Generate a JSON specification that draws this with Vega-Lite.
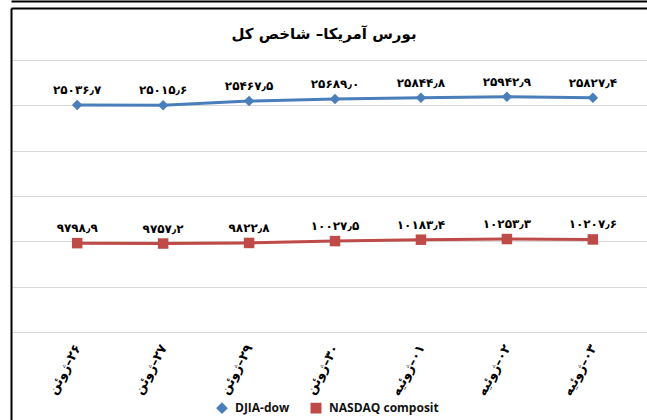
{
  "$schema": "https://vega.github.io/schema/vega-lite/v6.json",
  "width": 636,
  "height": 412,
  "autosize": {"type": "none"},
  "padding": {"left": 11, "top": 8, "right": 0, "bottom": 0},
  "background": "white",
  "title": {
    "text": "بورس آمریکا– شاخص کل",
    "font": "DejaVu Sans",
    "fontSize": 15,
    "fontWeight": "bold",
    "color": "#000000",
    "anchor": "middle",
    "frame": "group",
    "offset": -41,
    "dx": -5
  },
  "config": {
    "view": {"stroke": null},
    "locale": {
      "number": {
        "decimal": "٫",
        "thousands": "٬",
        "grouping": [3],
        "currency": ["", ""],
        "numerals": ["۰", "۱", "۲", "۳", "۴", "۵", "۶", "۷", "۸", "۹"]
      }
    }
  },
  "data": {
    "values": [
      {"date": "‏۲۶–ژوئن", "series": "DJIA-dow", "value": 25036.7},
      {"date": "‏۲۷–ژوئن", "series": "DJIA-dow", "value": 25015.6},
      {"date": "‏۲۹–ژوئن", "series": "DJIA-dow", "value": 25467.5},
      {"date": "‏۳۰–ژوئن", "series": "DJIA-dow", "value": 25689.0},
      {"date": "‏۰۱–ژوئیه", "series": "DJIA-dow", "value": 25844.8},
      {"date": "‏۰۲–ژوئیه", "series": "DJIA-dow", "value": 25942.9},
      {"date": "‏۰۳–ژوئیه", "series": "DJIA-dow", "value": 25827.4},
      {"date": "‏۲۶–ژوئن", "series": "NASDAQ composit", "value": 9798.9},
      {"date": "‏۲۷–ژوئن", "series": "NASDAQ composit", "value": 9757.2},
      {"date": "‏۲۹–ژوئن", "series": "NASDAQ composit", "value": 9822.8},
      {"date": "‏۳۰–ژوئن", "series": "NASDAQ composit", "value": 10027.5},
      {"date": "‏۰۱–ژوئیه", "series": "NASDAQ composit", "value": 10183.4},
      {"date": "‏۰۲–ژوئیه", "series": "NASDAQ composit", "value": 10253.3},
      {"date": "‏۰۳–ژوئیه", "series": "NASDAQ composit", "value": 10207.6}
    ]
  },
  "resolve": {"axis": {"x": "independent"}},
  "layer": [
    {
      "mark": {"type": "line", "strokeWidth": 3},
      "encoding": {
        "x": {
          "field": "date", "type": "nominal", "sort": null,
          "scale": {"type": "point", "padding": 0.7, "align": 0.55},
          "axis": {
            "orient": "bottom", "title": null, "domain": false, "ticks": false, "grid": false,
            "offset": -79, "labelAngle": -62, "labelFont": "DejaVu Sans", "labelFontWeight": "bold",
            "labelFontSize": 13, "labelColor": "#000000", "labelPadding": 4
          }
        },
        "y": {
          "field": "value", "type": "quantitative",
          "scale": {"domain": [-9705.9, 35735.3], "nice": false, "zero": false},
          "axis": {
            "orient": "left", "title": null, "labels": false, "ticks": false,
            "domain": true, "domainColor": "#000000", "domainWidth": 2,
            "grid": true, "gridColor": "#d9d9d9", "gridWidth": 1,
            "values": [0, 5000, 10000, 15000, 20000, 25000, 30000]
          }
        },
        "color": {
          "field": "series", "type": "nominal",
          "scale": {"domain": ["DJIA-dow", "NASDAQ composit"], "range": ["#4a7ebb", "#be4b48"]},
          "legend": {
            "orient": "none", "legendX": 205, "legendY": 394, "direction": "horizontal",
            "title": null, "labelFont": "Open Sans", "labelFontSize": 12, "labelFontWeight": "bold",
            "labelColor": "#111111", "labelOffset": 7,
            "symbolSize": 90, "columnPadding": 18
          }
        }
      }
    },
    {
      "mark": {"type": "point", "filled": true, "opacity": 1, "size": 110, "strokeWidth": 0.8},
      "encoding": {
        "x": {
          "field": "date", "type": "nominal", "sort": null,
          "axis": {"orient": "top", "title": null, "labels": false, "ticks": false, "grid": false,
                   "domain": true, "domainColor": "#000000", "domainWidth": 2}
        },
        "y": {"field": "value", "type": "quantitative"},
        "color": {"field": "series", "type": "nominal"},
        "shape": {
          "field": "series", "type": "nominal",
          "scale": {"domain": ["DJIA-dow", "NASDAQ composit"], "range": ["diamond", "square"]}
        }
      }
    },
    {
      "mark": {"type": "text", "dy": -15, "font": "DejaVu Sans", "fontWeight": "bold", "fontSize": 12, "color": "#000000"},
      "encoding": {
        "x": {
          "field": "date", "type": "nominal", "sort": null,
          "axis": {"orient": "top", "offset": 7, "title": null, "labels": false, "ticks": false, "grid": false,
                   "domain": true, "domainColor": "#000000", "domainWidth": 2}
        },
        "y": {"field": "value", "type": "quantitative"},
        "text": {"field": "value", "type": "quantitative", "format": ".1f"}
      }
    }
  ]
}
